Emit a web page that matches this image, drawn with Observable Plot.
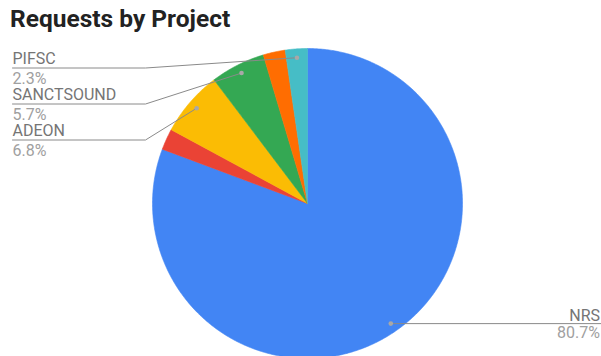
<!DOCTYPE html>
<html><head><meta charset="utf-8">
<script src="https://cdn.jsdelivr.net/npm/d3@7"></script>
<script src="https://cdn.jsdelivr.net/npm/@observablehq/plot@0.6"></script>
<style>
body{margin:0;background:#fff;}
#wrap{position:relative;width:601px;height:356px;overflow:hidden;}
#title{position:absolute;left:10px;top:4px;font:700 24.5px Roboto, sans-serif;color:#222;white-space:nowrap;}
#wrap svg{position:absolute;left:0;top:0;}
</style></head><body>
<div id="wrap"><div id="title">Requests by Project</div></div>
<script>
// Data (clockwise from 12 o'clock)
const projects = ["NRS", "Other 1", "ADEON", "SANCTSOUND", "Other 2", "PIFSC"];
const shares = [80.7, 2.2, 6.8, 5.7, 2.3, 2.3];
const colors = ["#4285f4", "#ea4335", "#fbbc04", "#34a853", "#ff6d01", "#46bdc6"];
const shareLabels = ["80.7%", "", "6.8%", "5.7%", "", "2.3%"];
const labeledLeft = ["PIFSC", "SANCTSOUND", "ADEON"];
const labeledRight = ["NRS"];

// Layout
const W = 601, H = 356, cx = 307, cy = 203, R = 155, dotR = 0.943 * R;
const rows = projects.map((name, i) => ({name, share: shares[i], label: shareLabels[i]}));
const arcs = d3.pie().sort(null).value(d => d.share)(rows);
const pt = (a, r) => [cx + r * Math.sin(a), cy - r * Math.cos(a)];

const polys = [];
for (const a of arcs) {
  const n = Math.max(2, Math.ceil((a.endAngle - a.startAngle) / (Math.PI / 360)));
  polys.push({name: a.data.name, x: cx, y: cy});
  for (let k = 0; k <= n; k++) {
    const t = a.startAngle + (a.endAngle - a.startAngle) * k / n;
    const [x, y] = pt(t, R);
    polys.push({name: a.data.name, x, y});
  }
  polys.push({name: a.data.name, x: cx, y: cy});
}

const dots = [];
const leaders = [];
const leftTexts = [];
const rightTexts = [];
const leftX = 12, bendX = 145, firstName = 63.5, step = 36;
arcs.forEach(a => {
  const mid = (a.startAngle + a.endAngle) / 2;
  const [dx, dy] = pt(mid, dotR);
  const name = a.data.name;
  const li = labeledLeft.indexOf(name);
  if (li >= 0) {
    const ny = firstName + li * step;
    const ly = ny + 4;
    dots.push({x: dx, y: dy});
    leaders.push({name, x: leftX, y: ly}, {name, x: bendX, y: ly}, {name, x: dx, y: dy});
    leftTexts.push({x: leftX, y: ny, t: name, c: "#757575"});
    leftTexts.push({x: leftX, y: ny + 19.5, t: a.data.label, c: "#a0a0a0"});
  } else if (labeledRight.includes(name)) {
    dots.push({x: dx, y: dy});
    leaders.push({name, x: dx, y: dy}, {name, x: W, y: dy});
    rightTexts.push({x: W - 1.5, y: dy - 3, t: name, c: "#757575"});
    rightTexts.push({x: W - 1.5, y: dy + 14.5, t: a.data.label, c: "#a0a0a0"});
  }
});

const chart = Plot.plot({
  width: W, height: H,
  margin: 0,
  x: {domain: [0, W], range: [0, W], axis: null},
  y: {domain: [0, H], range: [0, H], axis: null},
  color: {domain: projects, range: colors},
  style: {fontFamily: "Roboto, sans-serif", background: "#fff"},
  marks: [
    Plot.line(polys, {x: "x", y: "y", z: "name", fill: "name", stroke: "name", strokeWidth: 0.6, curve: "linear"}),
    Plot.line(leaders, {x: "x", y: "y", z: "name", stroke: "#8a8a8a", strokeWidth: 1}),
    Plot.dot(dots, {x: "x", y: "y", r: 2.3, fill: "#a8a8a8", stroke: "none"}),
    Plot.text(leftTexts, {x: "x", y: "y", text: "t", fill: "c", textAnchor: "start", lineAnchor: "bottom", fontSize: 16}),
    Plot.text(rightTexts, {x: "x", y: "y", text: "t", fill: "c", textAnchor: "end", lineAnchor: "bottom", fontSize: 16})
  ]
});
document.getElementById("wrap").insertBefore(chart, document.getElementById("title"));
</script>
</body></html>
